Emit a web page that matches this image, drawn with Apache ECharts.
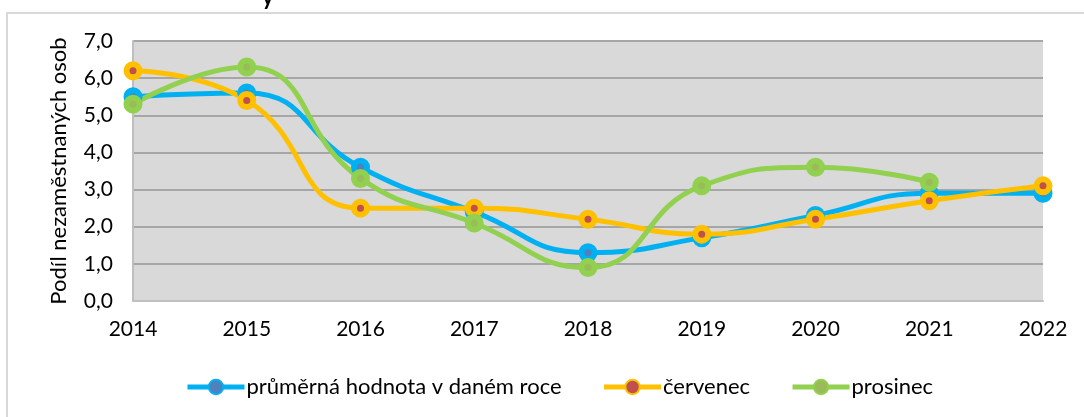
<!DOCTYPE html>
<html>
<head>
<meta charset="utf-8">
<script src="https://cdn.jsdelivr.net/npm/echarts@6/dist/echarts.min.js"></script>
<style>
  html, body { margin: 0; padding: 0; background: #fff; }
  #chart { width: 1084px; height: 417px; }
</style>
</head>
<body>
<div id="chart"></div>
<script>
// data
const years = ["2014", "2015", "2016", "2017", "2018", "2019", "2020", "2021", "2022"];
const prumer = [5.5, 5.6, 3.6, 2.4, 1.3, 1.7, 2.3, 2.9, 2.9];
const cervenec = [6.2, 5.4, 2.5, 2.5, 2.2, 1.8, 2.2, 2.7, 3.1];
const prosinec = [5.3, 6.3, 3.3, 2.1, 0.9, 3.1, 3.6, 3.2, null];
const seriesNames = ["průměrná hodnota v daném roce", "červenec", "prosinec"];

const font = "Lato, 'Open Sans', sans-serif";
const chart = echarts.init(document.getElementById("chart"));

function lineSeries(name, data, lineColor, dotColor) {
  return {
    name: name,
    type: "line",
    data: data,
    smooth: 0.5,
    symbol: "circle",
    symbolSize: 13,
    lineStyle: { color: lineColor, width: 5 },
    itemStyle: { color: dotColor, borderColor: lineColor, borderWidth: 6 },
  };
}

chart.setOption({
  animation: false,
  textStyle: { fontFamily: font },
  graphic: [
    {
      type: "rect",
      shape: { x: 7, y: 13, width: 1090, height: 420 },
      style: { fill: "none", stroke: "#d9d9d9", lineWidth: 2 },
      z: -10,
    },
    {
      type: "text",
      left: 262,
      top: -13,
      style: { text: "y", font: "bold 22px " + font, fill: "#000" },
    },
  ],
  grid: {
    left: 133, right: 41, top: 41, bottom: 116,
    show: true, backgroundColor: "#d9d9d9", borderWidth: 0,
  },
  legend: {
    data: seriesNames,
    left: 180,
    top: 371,
    itemWidth: 57,
    itemHeight: 18,
    itemGap: 40,
    lineStyle: { width: 5 },
    textStyle: { fontSize: 22, color: "#000", fontFamily: font, padding: [0, 0, 0, -3] },
  },
  xAxis: {
    type: "category",
    data: years,
    boundaryGap: false,
    axisLine: { show: true, lineStyle: { color: "#bfbfbf", width: 2 } },
    axisTick: { show: false },
    axisLabel: { color: "#000", fontSize: 21, margin: 18, fontFamily: font },
  },
  yAxis: {
    type: "value",
    min: 0,
    max: 7,
    interval: 1,
    name: "Podíl nezaměstnaných osob",
    nameLocation: "middle",
    nameGap: 63,
    nameTextStyle: { fontSize: 22, color: "#000", fontFamily: font },
    axisLine: { show: true, lineStyle: { color: "#bfbfbf", width: 2 } },
    axisTick: { show: false },
    splitLine: { lineStyle: { color: "#a6a6a6", width: 2 } },
    axisLabel: {
      color: "#000", fontSize: 21, margin: 20, fontFamily: font,
      formatter: (v) => v.toFixed(1).replace(".", ","),
    },
  },
  series: [
    lineSeries(seriesNames[0], prumer, "#00b0f0", "#4f81bd"),
    lineSeries(seriesNames[1], cervenec, "#ffc000", "#c0504d"),
    lineSeries(seriesNames[2], prosinec, "#92d050", "#9bbb59"),
  ],
});
</script>
</body>
</html>
